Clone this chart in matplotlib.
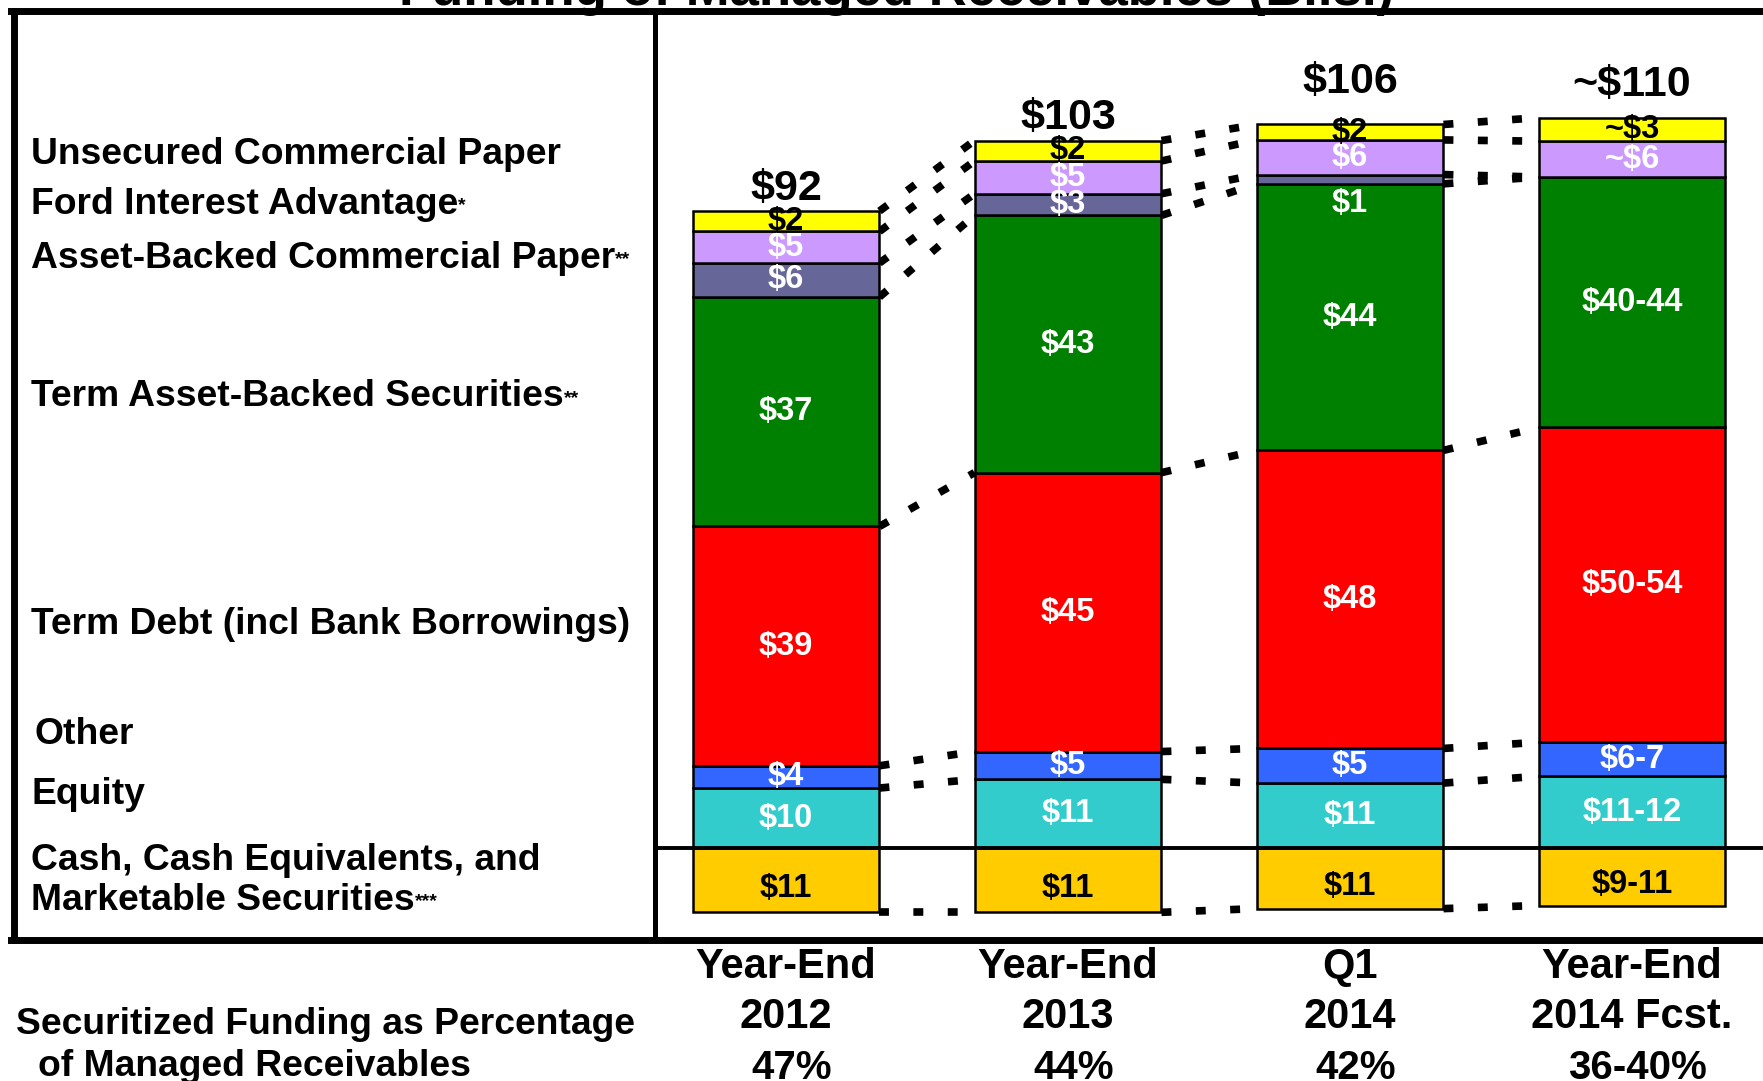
import matplotlib.pyplot as plt
import matplotlib.transforms as mtransforms
from matplotlib.lines import Line2D

plt.rcParams['font.family'] = ['Liberation Sans', 'DejaVu Sans']
plt.rcParams['font.weight'] = 'bold'

periods = ['Year-End\n2012', 'Year-End\n2013', 'Q1\n2014', 'Year-End\n2014 Fcst.']
sec_pct = ['47%', '44%', '42%', '36-40%']
totals = ['$92', '$103', '$106', '~$110']

# segment heights (Bils.)
cash = [10.4, 10.4, 9.8, 9.3]
equity = [9.7, 11.1, 10.5, 11.6]
other = [3.6, 4.5, 5.6, 5.5]
term_debt = [38.7, 45.1, 48.2, 50.9]
term_abs = [37.1, 41.6, 43.1, 40.5]
abcp = [5.5, 3.5, 1.5, 0]
fia = [5.1, 5.3, 5.6, 5.8]
ucp = [3.3, 3.3, 2.5, 3.8]

# printed values
cash_lbl = ['$11', '$11', '$11', '$9-11']
equity_lbl = ['$10', '$11', '$11', '$11-12']
other_lbl = ['$4', '$5', '$5', '$6-7']
term_debt_lbl = ['$39', '$45', '$48', '$50-54']
term_abs_lbl = ['$37', '$43', '$44', '$40-44']
abcp_lbl = ['$6', '$3', '$1', '']
fia_lbl = ['$5', '$5', '$6', '~$6']
ucp_lbl = ['$2', '$2', '$2', '~$3']

W, H = 1763, 1081
fig = plt.figure(figsize=(W / 100, H / 100), dpi=100)


def fx(px):
    return px / W


def fy(py):
    return 1 - py / H


# bar axes sits inside the right panel of the frame
ax = fig.add_axes([fx(655), fy(940), fx(1763) - fx(655), fy(11) - fy(940)])
scale = 6.184  # pixels per $1B
ax.set_ylim(-(940 - 848) / scale, (848 - 11) / scale)
ax.set_xlim(-0.4645, 3.4645)
ax.axis('off')

x = list(range(4))
bw = 0.663
edge = dict(edgecolor='black', linewidth=1.8, zorder=3)
lblfont = dict(ha='center', va='center', fontsize=23.5, fontweight='bold', zorder=5)

# cash sits below the zero line
ax.bar(x, cash, bottom=[-c for c in cash], width=bw, color='#FFCC00', **edge)
for i in x:
    ax.text(i, -cash[i] / 2 - 1.3, cash_lbl[i], color='black', **lblfont)

layers = [
    (equity, '#33CCCC', equity_lbl, 'white'),
    (other, '#3366FF', other_lbl, 'white'),
    (term_debt, '#FF0000', term_debt_lbl, 'white'),
    (term_abs, '#008000', term_abs_lbl, 'white'),
    (abcp, '#666699', abcp_lbl, 'white'),
    (fia, '#CC99FF', fia_lbl, 'white'),
    (ucp, '#FFFF00', ucp_lbl, 'black'),
]

bottom = [0, 0, 0, 0]
levels = [[-c for c in cash]]
for vals, col, lbls, tcol in layers:
    ax.bar(x, vals, bottom=bottom, width=bw, color=col, **edge)
    for i in x:
        if not lbls[i]:
            continue
        if vals[i] < 2:
            ty = bottom[i] - 3.2
        else:
            ty = bottom[i] + vals[i] / 2
        ax.text(i, ty, lbls[i], color=tcol, **lblfont)
    bottom = [b + v for b, v in zip(bottom, vals)]
    levels.append(list(bottom))

# dotted connectors between bars
for lev in levels:
    for i in range(3):
        ax.plot([i + bw / 2, i + 1 - bw / 2], [lev[i], lev[i + 1]],
                color='black', lw=5.5, linestyle=(0, (1.3, 3.2)),
                dash_capstyle='butt', zorder=2)

ax.axhline(0, color='black', lw=2.8, zorder=6)

# totals above each bar
total_pad = [0.4, 0.4, 3.7, 2.0]
for i in x:
    ax.text(i, bottom[i] + total_pad[i], totals[i], ha='center', va='bottom',
            fontsize=31, fontweight='bold', zorder=5)

# category and percentage rows under the frame
tr = mtransforms.blended_transform_factory(ax.transData, fig.transFigure)
for i in x:
    top, bot = periods[i].split('\n')
    ax.text(i, fy(967), top, transform=tr, ha='center', va='center', fontsize=30, clip_on=False)
    ax.text(i, fy(1017), bot, transform=tr, ha='center', va='center', fontsize=30, clip_on=False)
    ax.text(i + 0.02, fy(1068), sec_pct[i], transform=tr, ha='center', va='center',
            fontsize=29, clip_on=False)

# frame
for (x0, y0, x1, y1, lw) in [(11, 11, 1763, 11, 5), (14, 11, 14, 940, 5),
                              (11, 940, 1763, 940, 5), (655, 11, 655, 940, 3.6)]:
    fig.add_artist(Line2D([fx(x0), fx(x1)], [fy(y0), fy(y1)], color='black', lw=lw,
                          solid_capstyle='projecting'))

# title, mostly cut off at the top edge
fig.text(fx(897), fy(5), 'Funding of Managed Receivables (Bils.)', ha='center',
         va='baseline', fontsize=38, fontweight='bold')

# left legend column
legend_rows = [
    ('Unsecured Commercial Paper', '', 154, 31),
    ('Ford Interest Advantage', '*', 204, 31),
    ('Asset-Backed Commercial Paper', '**', 258, 31),
    ('Term Asset-Backed Securities', '**', 397, 31),
    ('Term Debt (incl Bank Borrowings)', '', 624, 31),
    ('Other', '', 735, 35),
    ('Equity', '', 795, 31),
    ('Cash, Cash Equivalents, and', '', 860, 31),
    ('Marketable Securities', '***', 900, 31),
]
for txt, star, py, px in legend_rows:
    t = fig.text(fx(px), fy(py), txt, ha='left', va='center', fontsize=26.8)
    if star:
        ax.annotate(star, xy=(1.0, 0.2), xycoords=t, ha='left', va='bottom',
                    fontsize=14, annotation_clip=False)

fig.text(fx(16), fy(1024), 'Securitized Funding as Percentage', ha='left', va='center',
         fontsize=26.8)
fig.text(fx(38), fy(1067), 'of Managed Receivables', ha='left', va='center', fontsize=26.8)

fig.savefig('out.png', dpi=100)
